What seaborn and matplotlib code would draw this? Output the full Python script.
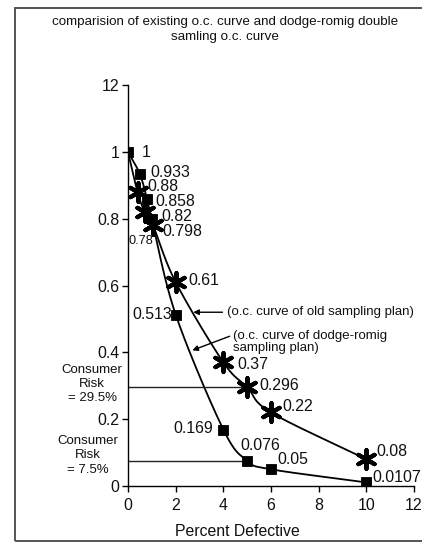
import numpy as np
import pandas as pd
import matplotlib
matplotlib.use("Agg")
import matplotlib.pyplot as plt
import matplotlib.patches as mpatches
import seaborn as sns

# ---------------- data ----------------
title = "comparision of existing o.c. curve and dodge-romig double\nsamling o.c. curve"
x_label = "Percent Defective"
dr_x = [0, 0.5, 0.8, 1.0, 2, 4, 5, 6, 10]              # dodge-romig (squares)
dr_y = [1, 0.933, 0.858, 0.798, 0.513, 0.169, 0.076, 0.05, 0.0107]
old_x = [0, 0.4, 0.7, 1.05, 2, 4, 5, 6, 10]            # old plan (stars)
old_y = [1, 0.88, 0.82, 0.78, 0.61, 0.37, 0.296, 0.22, 0.08]
y_ticks = [0, 0.2, 0.4, 0.6, 0.8, 1.0, 1.2]
y_tick_labels = ["0", "0.2", "0.4", "0.6", "0.8", "1", "12"]
x_ticks = [0, 2, 4, 6, 8, 10, 12]
consumer_risk_old = 0.296
consumer_risk_dr = 0.076
risk_x = 5

# ---------------- style / layout ----------------
W, H = 422, 543
sns.set_theme(style="white")
plt.rcParams["font.family"] = ["Liberation Sans", "DejaVu Sans"]
fig = plt.figure(figsize=(W / 100, H / 100), dpi=100)
L, R, T, B = 128, 414, 85, 486
ax = fig.add_axes([L / W, 1 - B / H, (R - L) / W, (B - T) / H])


def px(x, y):
    return x / W, 1 - y / H


def smooth(xs, ys, n=30):
    # Catmull-Rom rendering of the line through the given points
    P = np.column_stack([xs, ys]).astype(float)
    P = np.vstack([P[0] - (P[1] - P[0]), P, P[-1] + (P[-1] - P[-2])])
    out = []
    for i in range(1, len(P) - 2):
        p0, p1, p2, p3 = P[i - 1], P[i], P[i + 1], P[i + 2]
        t = np.linspace(0, 1, n, endpoint=False)[:, None]
        out.append(0.5 * ((2 * p1) + (-p0 + p2) * t + (2 * p0 - 5 * p1 + 4 * p2 - p3) * t ** 2
                          + (-p0 + 3 * p1 - 3 * p2 + p3) * t ** 3))
    out.append(P[-2][None, :])
    return np.vstack(out)


for xs, ys in [(dr_x, dr_y), (old_x, old_y)]:
    s = smooth(xs, ys)
    sns.lineplot(x=s[:, 0], y=s[:, 1], sort=False, estimator=None, color="black", lw=1.3, ax=ax)

# consumer risk lines
for yv in [consumer_risk_old, consumer_risk_dr]:
    sns.lineplot(x=[0, risk_x], y=[yv, yv], color="#222222", lw=1.0, ax=ax)

sns.scatterplot(x=dr_x, y=dr_y, marker="s", s=58, color="black", edgecolor="black", ax=ax, zorder=5)
sns.scatterplot(x=old_x[1:], y=old_y[1:], marker=(6, 2, 0), s=180, color="black",
                linewidth=3.0, ax=ax, zorder=5)

# data labels: (dx, dy pixels, ha, fontsize)
dr_off = [(14, -1, "left", 11.4), (10, 2, "left", 11.4), (8, -2, "left", 11.4), (11, -12, "left", 11.4),
          (-4, 0, "right", 11.4), (-10, 1, "right", 11.4), (-7, 15, "left", 11.4), (6, 10, "left", 11.4),
          (6, 5, "left", 11.4)]
old_off = [None, (10, 5, "left", 11.4), (17, -5, "left", 11.4), (0, -16, "right", 9.2),
           (13, 2, "left", 11.4), (14, -2, "left", 11.4), (12, 2, "left", 11.4), (11, 6, "left", 11.4),
           (10, 8, "left", 11.4)]
for xs, ys, offs in [(dr_x, dr_y, dr_off), (old_x, old_y, old_off)]:
    for xv, yv, o in zip(xs, ys, offs):
        if o is None:
            continue
        ax.annotate(f"{yv:g}", (xv, yv), xytext=(o[0], o[1]), textcoords="offset pixels",
                    ha=o[2], va="center", fontsize=o[3], color="#111111")

# arrow annotations
ax.annotate("(o.c. curve of old sampling plan)", xy=(2.74, 0.52), xytext=(4.16, 0.52),
            ha="left", va="center", fontsize=9.5, color="#111111",
            arrowprops=dict(arrowstyle="-|>", lw=1.0, color="black", mutation_scale=8,
                            shrinkA=1, shrinkB=0))
ax.annotate("(o.c. curve of dodge-romig\nsampling plan)", xy=(2.7, 0.406), xytext=(4.4, 0.431),
            ha="left", va="center", fontsize=9.5, color="#111111", linespacing=1.1,
            arrowprops=dict(arrowstyle="-|>", lw=1.0, color="black", mutation_scale=8,
                            shrinkA=0, shrinkB=0, relpos=(0, 0.78)))

# axes styling
ax.set_xlim(0, 12)
ax.set_ylim(0, 1.2)
ax.set_xticks(x_ticks)
ax.set_xticklabels([str(v) for v in x_ticks])
ax.set_yticks(y_ticks)
ax.set_yticklabels(y_tick_labels)
for sp in ["top", "right"]:
    ax.spines[sp].set_visible(False)
for sp in ["left", "bottom"]:
    ax.spines[sp].set_color("black")
    ax.spines[sp].set_linewidth(1.0)
ax.tick_params(axis="both", which="major", direction="out", length=4, width=1,
               color="black", labelsize=11.4, labelcolor="#111111", bottom=True, left=True)
ax.tick_params(axis="x", pad=5)
ax.tick_params(axis="y", pad=2)
ax.set_xlabel(x_label, fontsize=11.4, color="#111111")
ax.xaxis.set_label_coords((237 - L) / (R - L), -(531.7 - B) / (B - T))
ax.xaxis.label.set_va("center")
ax.set_ylabel("")

# side texts
fig.text(*px(92, 384), "Consumer\nRisk\n= 29.5%", ha="center", va="center", fontsize=9.5,
         color="#111111", linespacing=1.25)
fig.text(*px(88, 455.5), "Consumer\nRisk\n= 7.5%", ha="center", va="center", fontsize=9.5,
         color="#111111", linespacing=1.25)
fig.text(*px(225, 29.2), title, ha="center", va="center", fontsize=9.6, color="#111111",
         linespacing=1.3)

# figure frame
fig.add_artist(mpatches.Rectangle(px(15, 541), (430 - 15) / W, (541 - 8) / H, fill=False,
                                  edgecolor="#555555", lw=1.4, transform=fig.transFigure))

fig.savefig("out.png", dpi=100)
